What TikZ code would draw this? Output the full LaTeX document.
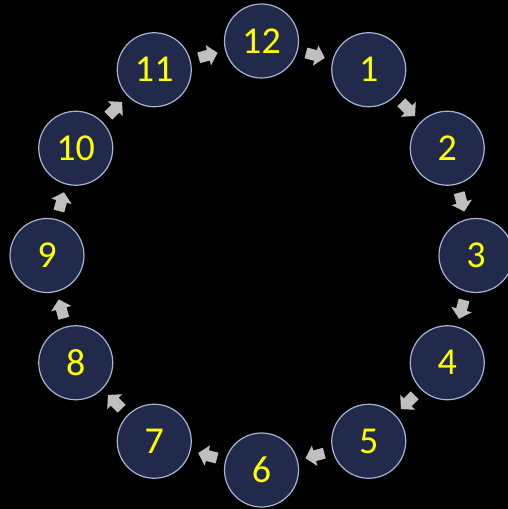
\documentclass[tikz,border=0pt]{standalone}
\usepackage{fontspec}
\setmainfont{Carlito}
\usetikzlibrary{calc}
\definecolor{navy}{HTML}{222A4C}
\definecolor{rim}{HTML}{A3B6D2}
\definecolor{numyel}{HTML}{FFFF00}
\definecolor{arrgray}{HTML}{BFBFBF}
\tikzset{
  clocknode/.style={circle, fill=navy, draw=rim, line width=1.2pt, minimum size=74pt, inner sep=0pt,
    text=numyel, font=\fontsize{38}{38}\selectfont},
  blockarrow/.pic={
    \fill[arrgray] (-9.5,-5.5) -- (0.5,-5.5) -- (0.5,-10.5) -- (10,0) -- (0.5,10.5) -- (0.5,5.5) -- (-9.5,5.5) -- cycle;
  }
}
\begin{document}
\begin{tikzpicture}[x=1pt,y=1pt]
\fill[black] (0,0) rectangle (508,509);
\useasboundingbox (0,0) rectangle (508,509);
\coordinate (C) at (261.5,253.5);
\foreach \k in {1,...,12}{
  \node[clocknode] (n\k) at ([shift={(90-30*\k:214.5)}]C) {\k};
}
\foreach \a/\b in {12/1,1/2,2/3,3/4,4/5,5/6,6/7,7/8,8/9,9/10,10/11,11/12}{
  \coordinate (m\a) at ($(n\a)!0.5!(n\b)$);
  \pic[rotate={-30*\a-15}] at (m\a) {blockarrow};
}
\end{tikzpicture}
\end{document}
